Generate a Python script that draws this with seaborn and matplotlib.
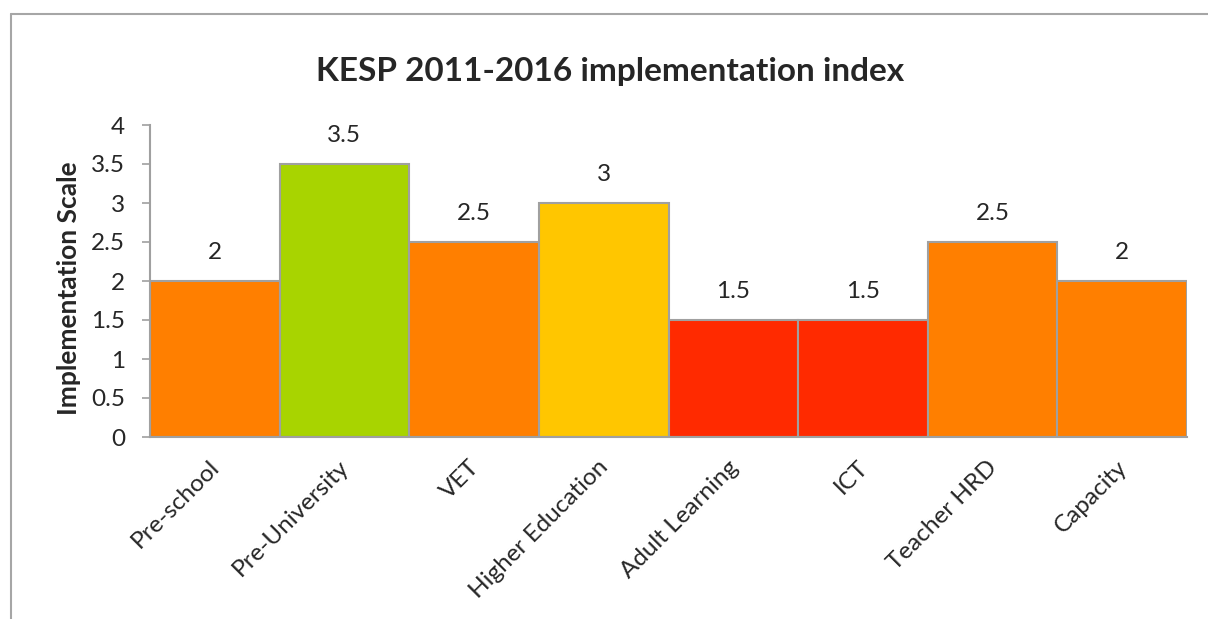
import matplotlib
matplotlib.use("Agg")
import matplotlib.pyplot as plt
from matplotlib.lines import Line2D
from matplotlib.transforms import ScaledTranslation
import seaborn as sns

categories = ["Pre-school", "Pre-University", "VET", "Higher Education",
              "Adult Learning", "ICT", "Teacher HRD", "Capacity"]
scores = [2, 3.5, 2.5, 3, 1.5, 1.5, 2.5, 2]
bar_colors = ["#FF7F00", "#A8D400", "#FF7F00", "#FFC600",
              "#FF2A00", "#FF2A00", "#FF7F00", "#FF7F00"]
y_ticks = [0, 0.5, 1, 1.5, 2, 2.5, 3, 3.5, 4]

sns.set_style("white")
plt.rcParams["font.family"] = ["Lato", "DejaVu Sans"]

W, H = 1208, 619
fig = plt.figure(figsize=(W / 100, H / 100), dpi=100)
ax = fig.add_axes([150 / W, 1 - 437 / H, (1187 - 150) / W, (437 - 125) / H])

grey = "#A0A0A0"
sns.barplot(x=categories, y=scores, hue=categories, palette=bar_colors,
            width=1.0, edgecolor=grey, linewidth=1.5, legend=False,
            saturation=1, ax=ax)

ax.set_xlim(-0.5, len(categories) - 0.5)
ax.set_ylim(0, 4)
ax.set_yticks(y_ticks)
ax.set_yticklabels([f"{t:g}" for t in y_ticks], fontsize=17.5)
ax.set_xticks(range(len(categories)))
ax.set_xticklabels(categories, rotation=45, ha="right", va="top",
                   rotation_mode="anchor", fontsize=17.5)
ax.tick_params(axis="x", length=0, pad=14)
ax.tick_params(axis="y", length=6, width=1.2, color=grey, direction="out",
               pad=12, left=True)
ax.set_xlabel("")
ax.set_ylabel("")

# nudge the slanted category labels slightly left
shift = ScaledTranslation(-6 / 100, 0, fig.dpi_scale_trans)
for lbl in ax.get_xticklabels():
    lbl.set_transform(lbl.get_transform() + shift)

for side in ("top", "right"):
    ax.spines[side].set_visible(False)
for side in ("left", "bottom"):
    ax.spines[side].set_color(grey)
    ax.spines[side].set_linewidth(1.5)

for i, v in enumerate(scores):
    ax.annotate(f"{v:g}", xy=(i, v), xytext=(0, 13), textcoords="offset points",
                ha="center", va="bottom", fontsize=17.5)

fig.text(69 / W, 1 - 288 / H, "Implementation Scale", rotation=90,
         ha="center", va="center", fontsize=19, fontweight="bold")
fig.text(610 / W, 1 - 72 / H, "KESP 2011-2016 implementation index",
         ha="center", va="center", fontsize=24, fontweight="bold")

# chart area outline
fig.add_artist(Line2D([11 / W, 11 / W], [0, 1 - 14 / H], transform=fig.transFigure,
                      color="#A6A6A6", linewidth=1.5))
fig.add_artist(Line2D([11 / W, 1], [1 - 14 / H, 1 - 14 / H], transform=fig.transFigure,
                      color="#A6A6A6", linewidth=1.5))

fig.savefig("out.png", dpi=100)
